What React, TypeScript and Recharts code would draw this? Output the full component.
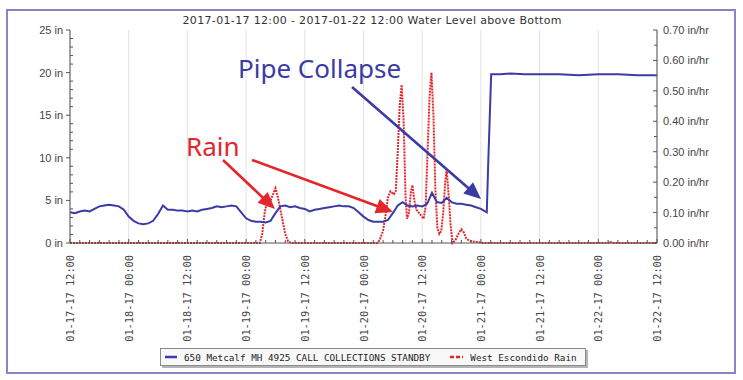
import React from 'react';
import { LineChart, Line, XAxis, YAxis, CartesianGrid, Legend } from 'recharts';

// hours since 2017-01-17 12:00
const xTicks = [0, 12, 24, 36, 48, 60, 72, 84, 96, 108, 120];
const xTickLabels = [
  '01-17-17 12:00', '01-18-17 00:00', '01-18-17 12:00', '01-19-17 00:00', '01-19-17 12:00',
  '01-20-17 00:00', '01-20-17 12:00', '01-21-17 00:00', '01-21-17 12:00', '01-22-17 00:00',
  '01-22-17 12:00',
];
const levelTicks = [0, 5, 10, 15, 20, 25];
const rainTicks = [0, 0.1, 0.2, 0.3, 0.4, 0.5, 0.6, 0.7];

const levelName = '650 Metcalf MH 4925 CALL COLLECTIONS STANDBY';
const rainName = 'West Escondido Rain';

// [hour, inches]
const waterLevel: [number, number][] = [
  [0, 3.6], [1, 3.5], [2, 3.7], [3, 3.8], [4, 3.7], [5, 4.0], [6, 4.3], [7, 4.4], [8, 4.5], [9, 4.4],
  [10, 4.3], [11, 3.9], [12, 3.1], [13, 2.6], [14, 2.3], [15, 2.2], [16, 2.3], [17, 2.6], [18, 3.4], [19, 4.4],
  [20, 3.9], [21, 3.9], [22, 3.8], [23, 3.8], [24, 3.7], [25, 3.8], [26, 3.7], [27, 3.9], [28, 4.0], [29, 4.1],
  [30, 4.3], [31, 4.2], [32, 4.3], [33, 4.4], [34, 4.3], [35, 3.6], [36, 2.9], [37, 2.6], [38, 2.5], [39, 2.5],
  [40, 2.4], [41, 2.6], [42, 3.5], [43, 4.3], [44, 4.4], [45, 4.2], [46, 4.3], [47, 4.1], [48, 4.0], [49, 3.7],
  [50, 3.9], [51, 4.0], [52, 4.1], [53, 4.2], [54, 4.3], [55, 4.4], [56, 4.3], [57, 4.3], [58, 4.1], [59, 3.6],
  [60, 3.1], [61, 2.7], [62, 2.5], [63, 2.5], [64, 2.5], [65, 2.7], [66, 3.5], [67, 4.4], [68, 4.8], [69, 4.4],
  [70, 4.3], [71, 4.4], [72, 4.3], [73, 4.6], [74, 5.9], [75, 4.8], [76, 4.7], [77, 5.3], [78, 4.8], [79, 4.6],
  [80, 4.6], [81, 4.5], [82, 4.4], [83, 4.2], [84, 4.0], [85.2, 3.6], [85.5, 9.4], [86.1, 19.8], [88, 19.8],
  [90, 19.9], [93, 19.8], [96, 19.8], [100, 19.8], [104, 19.7], [108, 19.8], [112, 19.8], [116, 19.7], [120, 19.7],
];

// [hour, in/hr]
const rain: [number, number][] = [
  [0, 0], [38.8, 0], [39.3, 0.03], [39.8, 0.1], [40.2, 0.13], [40.6, 0.12], [41.0, 0.14], [41.5, 0.16],
  [42.0, 0.18], [42.5, 0.15], [43.0, 0.11], [43.5, 0.07], [44.0, 0.03], [44.6, 0.005], [45.2, 0],
  [62.8, 0], [63.3, 0.01], [64.0, 0.04], [64.5, 0.09], [65.0, 0.15], [65.5, 0.17], [66.2, 0.16], [66.6, 0.17],
  [67.0, 0.3], [67.4, 0.45], [67.8, 0.52], [68.2, 0.4], [68.6, 0.15], [68.9, 0.08], [69.3, 0.1], [69.7, 0.17],
  [70.0, 0.19], [70.4, 0.14], [70.8, 0.11], [71.3, 0.1], [71.8, 0.09], [72.3, 0.08], [72.7, 0.12], [73.1, 0.3],
  [73.5, 0.48], [73.9, 0.56], [74.3, 0.42], [74.7, 0.17], [75.1, 0.05], [75.5, 0.03], [75.9, 0.04], [76.3, 0.1],
  [76.7, 0.2], [77.0, 0.24], [77.4, 0.16], [77.8, 0.06], [78.2, 0], [78.8, 0.01], [79.4, 0.03], [80.0, 0.045],
  [80.5, 0.035], [81.0, 0.015], [81.6, 0.008], [82.5, 0.005], [83.5, 0.003], [84.3, 0], [110, 0], [110.4, 0.005],
  [110.8, 0], [120, 0],
];

const levelData = waterLevel.map(([h, v]) => ({ h, level: v }));
const rainData = rain.map(([h, v]) => ({ h, rain: v }));

const minorX = Array.from({ length: 61 }, (_, i) => i * 2);
const minorLevel = Array.from({ length: 26 }, (_, i) => i);
const minorRain = Array.from({ length: 15 }, (_, i) => (i * 5) / 100);

const axisColor = '#555';
const blue = '#3b3ba6';
const red = '#e3262b';

const BottomTick = (props: any) => {
  const { x, y, payload } = props;
  const idx = xTicks.indexOf(payload.value);
  return (
    <g>
      <line x1={x} x2={x} y1={y} y2={y - (idx >= 0 ? 4 : 3)} stroke={axisColor} />
      {idx >= 0 && (
        <text
          x={x}
          y={y + 12}
          transform={`rotate(-90 ${x} ${y + 12})`}
          textAnchor="end"
          dominantBaseline="central"
          fontFamily="'DejaVu Sans Mono', monospace"
          fontSize={10.3}
          fill="#444"
        >
          {xTickLabels[idx]}
        </text>
      )}
    </g>
  );
};

const LeftTick = (props: any) => {
  const { x, y, payload } = props;
  const major = levelTicks.includes(payload.value);
  return (
    <g>
      {major ? (
        <line x1={x - 4} x2={x} y1={y} y2={y} stroke={axisColor} />
      ) : (
        <line x1={x} x2={x + 3} y1={y} y2={y} stroke={axisColor} />
      )}
      {major && (
        <text x={x - 7} y={y} textAnchor="end" dominantBaseline="central"
          fontFamily="'Liberation Sans', Arial, sans-serif" fontSize={11} fill="#444">
          {`${payload.value} in`}
        </text>
      )}
    </g>
  );
};

const RightTick = (props: any) => {
  const { x, y, payload } = props;
  const major = Math.round(payload.value * 100) % 10 === 0;
  return (
    <g>
      <line x1={x - (major ? 4 : 3)} x2={x} y1={y} y2={y} stroke={axisColor} />
      {major && (
        <text x={x + 6} y={y} textAnchor="start" dominantBaseline="central"
          fontFamily="'Liberation Sans', Arial, sans-serif" fontSize={11} fill="#444">
          {`${payload.value.toFixed(2)} in/hr`}
        </text>
      )}
    </g>
  );
};

const LegendBox = () => (
  <div
    style={{
      boxSizing: 'border-box',
      width: 426,
      height: 18,
      border: '1px solid #8a8a8a',
      background: '#f8f8f8',
      boxShadow: '2px 2px 0 #b4b4b4',
      display: 'flex',
      alignItems: 'center',
      fontFamily: "'DejaVu Sans Mono', monospace",
      fontSize: 9.3,
      color: '#222',
      whiteSpace: 'pre',
    }}
  >
    <svg width={12} height={4} style={{ marginLeft: 4, marginRight: 7 }}>
      <line x1={0} x2={12} y1={2} y2={2} stroke={blue} strokeWidth={2.5} />
    </svg>
    <span>{levelName}</span>
    <svg width={13} height={4} style={{ marginLeft: 20, marginRight: 7 }}>
      <line x1={0} x2={13} y1={2} y2={2} stroke={red} strokeWidth={2.5} strokeDasharray="4 2" />
    </svg>
    <span>{rainName}</span>
  </div>
);

const Arrow = ({ from, to, color }: { from: [number, number]; to: [number, number]; color: string }) => {
  const dx = to[0] - from[0];
  const dy = to[1] - from[1];
  const len = Math.hypot(dx, dy);
  const ux = dx / len;
  const uy = dy / len;
  const head = 17;
  const half = 7.5;
  const bx = to[0] - ux * head;
  const by = to[1] - uy * head;
  return (
    <g>
      <line x1={from[0]} y1={from[1]} x2={bx + ux * 2} y2={by + uy * 2} stroke={color} strokeWidth={2.6} />
      <polygon
        points={`${to[0]},${to[1]} ${bx - uy * half},${by + ux * half} ${bx + uy * half},${by - ux * half}`}
        fill={color}
      />
    </g>
  );
};

const App: React.FC = () => {
  return (
    <div style={{ position: 'absolute', left: 0, top: 0, width: 743, height: 380, background: '#fff' }}>
      <LineChart width={743} height={380} margin={{ top: 30, right: 0, bottom: 37, left: 0 }}>
        <CartesianGrid
          stroke="#e2e2e2"
          horizontalValues={levelTicks}
          verticalValues={xTicks}
        />
        <XAxis
          dataKey="h"
          type="number"
          domain={[0, 120]}
          ticks={minorX}
          interval={0}
          height={100}
          tickSize={0}
          tickMargin={0}
          tickLine={false}
          tick={<BottomTick />}
          stroke={axisColor}
        />
        <YAxis
          yAxisId="left"
          domain={[0, 25]}
          ticks={minorLevel}
          interval={0}
          width={70}
          tickSize={0}
          tickMargin={0}
          tickLine={false}
          tick={<LeftTick />}
          stroke={axisColor}
        />
        <YAxis
          yAxisId="right"
          orientation="right"
          domain={[0, 0.7]}
          ticks={minorRain}
          interval={0}
          width={86}
          tickSize={0}
          tickMargin={0}
          tickLine={false}
          tick={<RightTick />}
          stroke={axisColor}
        />
        <Legend
          layout="horizontal"
          verticalAlign="middle"
          align="center"
          wrapperStyle={{ left: 160, top: 348, width: 426, height: 18 }}
          content={<LegendBox />}
        />
        <Line
          yAxisId="right"
          data={rainData}
          dataKey="rain"
          name={rainName}
          type="linear"
          stroke={red}
          strokeWidth={2}
          strokeDasharray="2 1"
          dot={false}
          isAnimationActive={false}
        />
        <Line
          yAxisId="left"
          data={levelData}
          dataKey="level"
          name={levelName}
          type="linear"
          stroke={blue}
          strokeWidth={2}
          dot={false}
          isAnimationActive={false}
        />
      </LineChart>
      <svg
        width={743}
        height={380}
        style={{ position: 'absolute', left: 0, top: 0, pointerEvents: 'none' }}
      >
        <rect x={7} y={10} width={728} height={363} fill="none" stroke="#8a84c6" strokeWidth={2} />
        <text
          x={372}
          y={20}
          textAnchor="middle"
          dominantBaseline="central"
          fontFamily="'DejaVu Sans', sans-serif"
          fontSize={11}
          fill="#333"
          textLength={379}
          lengthAdjust="spacing"
        >
          2017-01-17 12:00 - 2017-01-22 12:00 Water Level above Bottom
        </text>
        <text x={238} y={78} fontFamily="'Noto Sans', sans-serif" fontSize={26} fill={blue}>
          Pipe Collapse
        </text>
        <text x={186} y={156} fontFamily="'Noto Sans', sans-serif" fontSize={26} fill={red}>
          Rain
        </text>
        <Arrow from={[223, 160]} to={[275, 209]} color={red} />
        <Arrow from={[252, 160]} to={[393, 212]} color={red} />
        <Arrow from={[352, 87]} to={[481, 199]} color={blue} />
      </svg>
    </div>
  );
};

export default App;
